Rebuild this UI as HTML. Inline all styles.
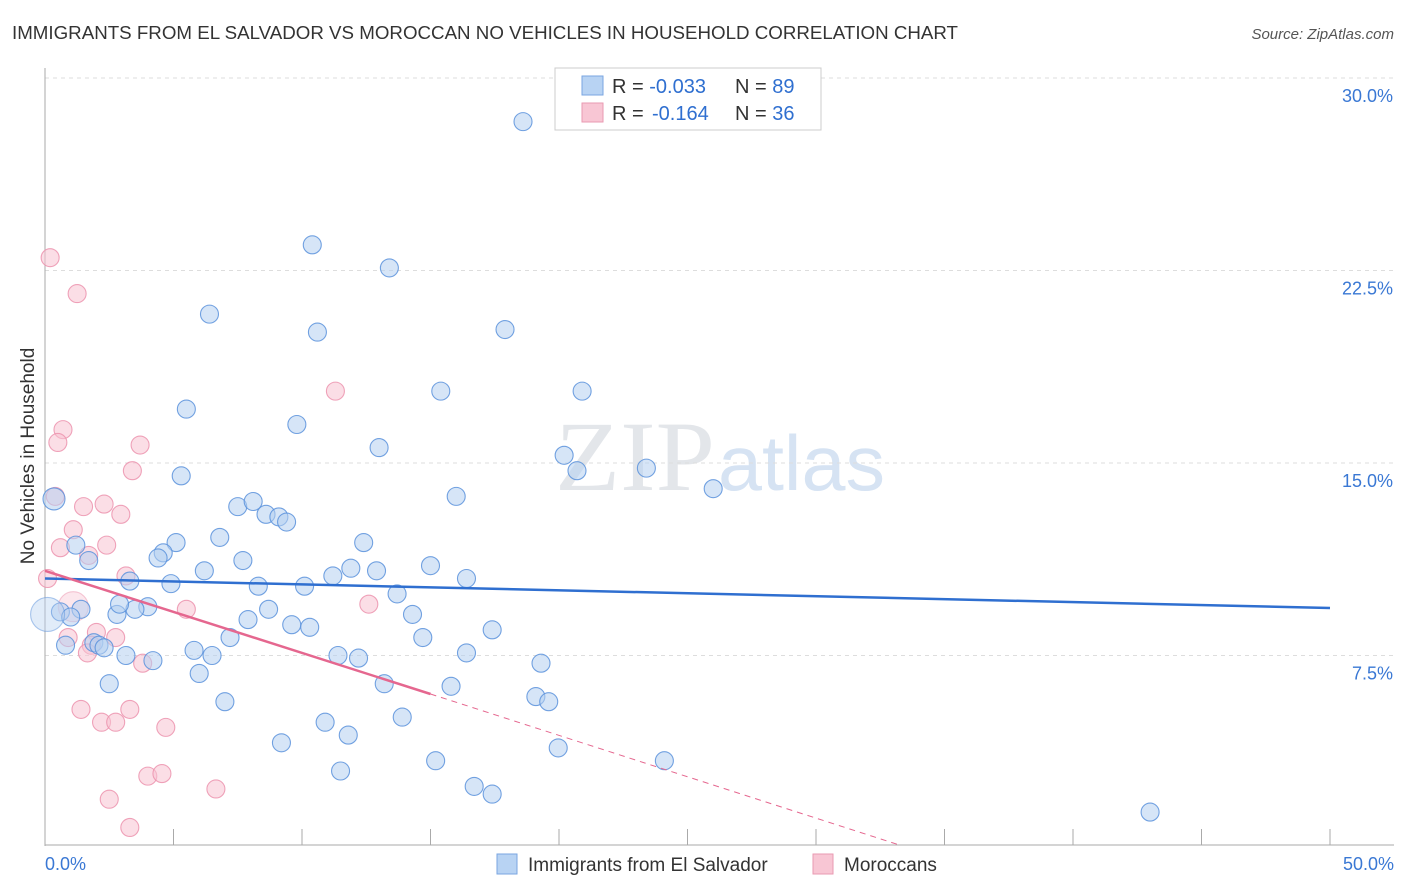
<!DOCTYPE html>
<html><head><meta charset="utf-8"><style>
body{margin:0;background:#fff;font-family:"Liberation Sans",sans-serif;}
svg{display:block}
</style></head><body>
<svg id="chart" width="1406" height="892">
<text x="12" y="39" font-size="18" fill="#333" textLength="946" lengthAdjust="spacingAndGlyphs">IMMIGRANTS FROM EL SALVADOR VS MOROCCAN NO VEHICLES IN HOUSEHOLD CORRELATION CHART</text>
<text x="1394" y="39" font-size="15" fill="#555" font-style="italic" text-anchor="end">Source: ZipAtlas.com</text>
<text x="555" y="490" font-size="100" fill="#e3e6ea" textLength="160" lengthAdjust="spacingAndGlyphs" font-family="Liberation Serif">ZIP</text>
<text x="718" y="490" font-size="78" fill="#d6e3f3" textLength="167" lengthAdjust="spacingAndGlyphs">atlas</text>
<g id="grid"></g>
<g id="axes"></g>
<g id="marks"></g>
<text transform="translate(34,456) rotate(-90)" font-size="19" fill="#333" text-anchor="middle">No Vehicles in Household</text>
<g>
<rect x="555" y="68" width="266" height="62" fill="#fff" stroke="#ccc"/>
<rect x="582" y="76" width="21" height="19" fill="#b8d3f3" stroke="#7aa6e0"/>
<rect x="582" y="103" width="21" height="19" fill="#f8c6d4" stroke="#e99ab2"/>
<text x="612" y="93" font-size="20" fill="#333">R = <tspan fill="#2f6fd0">-0.033</tspan><tspan x="735">N = </tspan><tspan fill="#2f6fd0">89</tspan></text>
<text x="612" y="120" font-size="20" fill="#333">R = <tspan fill="#2f6fd0" x="652">-0.164</tspan><tspan x="735">N = </tspan><tspan fill="#2f6fd0">36</tspan></text>
</g>
<g>
<rect x="497" y="854" width="20" height="20" fill="#b8d3f3" stroke="#7aa6e0"/>
<text x="528" y="871" font-size="19" fill="#333">Immigrants from El Salvador</text>
<rect x="813" y="854" width="20" height="20" fill="#f8c6d4" stroke="#e99ab2"/>
<text x="844" y="871" font-size="19" fill="#333">Moroccans</text>
</g>
</svg>
<script>
const yTicks=[7.5,15,22.5,30];
const yTickLabels=["7.5%","15.0%","22.5%","30.0%"];
const xTicks=[0,5,10,15,20,25,30,35,40,45,50];
const blueX=[18.6,10.4,13.4,6.4,10.6,17.9,15.4,20.9,5.5,9.8,13.0,20.2,20.7,23.4,26.0,5.3,16.0,0.35,7.5,8.1,8.6,9.1,9.4,6.8,5.1,4.6,4.4,1.7,1.2,12.4,7.7,11.9,12.9,15.0,16.4,11.2,6.2,3.3,4.9,8.3,10.1,13.7,14.3,8.7,7.9,4.0,3.5,2.8,2.9,1.4,0.6,1.0,0.1,9.6,10.3,7.2,14.7,17.4,1.9,2.1,0.8,2.3,3.15,4.2,5.8,6.5,11.4,12.2,16.4,19.3,6.0,13.2,2.5,15.8,19.1,19.6,7.0,13.9,10.9,11.8,9.2,19.97,15.2,24.1,11.5,16.7,17.4,43.0];
const blueY=[28.3,23.5,22.6,20.8,20.1,20.2,17.8,17.8,17.1,16.5,15.6,15.3,14.7,14.8,14.0,14.5,13.7,13.6,13.3,13.5,13.0,12.9,12.7,12.1,11.9,11.5,11.3,11.2,11.8,11.9,11.2,10.9,10.8,11.0,10.5,10.6,10.8,10.4,10.3,10.2,10.2,9.9,9.1,9.3,8.9,9.4,9.3,9.1,9.5,9.3,9.2,9.0,9.1,8.7,8.6,8.2,8.2,8.5,8.0,7.9,7.9,7.8,7.5,7.3,7.7,7.5,7.5,7.4,7.6,7.2,6.8,6.4,6.4,6.3,5.9,5.7,5.7,5.1,4.9,4.4,4.1,3.9,3.4,3.4,3.0,2.4,2.1,1.4];
const pinkX=[0.2,1.25,11.3,0.7,0.5,3.7,3.4,0.4,1.5,2.3,2.95,1.1,2.4,0.6,1.7,3.15,0.1,1.1,5.5,12.6,0.9,2.0,2.75,1.8,1.65,3.8,1.4,3.3,2.2,2.75,4.7,4.0,4.55,6.65,2.5,3.3];
const pinkY=[23.0,21.6,17.8,16.3,15.8,15.7,14.7,13.7,13.3,13.4,13.0,12.4,11.8,11.7,11.4,10.6,10.5,9.4,9.3,9.5,8.2,8.4,8.2,7.9,7.6,7.2,5.4,5.4,4.9,4.9,4.7,2.8,2.9,2.3,1.9,0.8];
const X0=45,X1=1330,Y0=848,PXY=192.5/7.5;
const xs=v=>X0+(v/50)*(X1-X0);
const ys=v=>Y0-v*PXY;
const NS="http://www.w3.org/2000/svg";
function mk(tag,attrs,parent){const e=document.createElementNS(NS,tag);for(const k in attrs)e.setAttribute(k,attrs[k]);parent.appendChild(e);return e;}
const grid=document.getElementById('grid'),axes=document.getElementById('axes'),marks=document.getElementById('marks');
yTicks.forEach((t,i)=>{
 const l=mk('line',{x1:45,x2:1394,y1:ys(t),y2:ys(t),stroke:'#ddd','stroke-dasharray':'4,4'},grid);
 
 
 const tx=mk('text',{x:1393,y:ys(t)+24,'font-size':18,fill:'#3a78d4','text-anchor':'end'},axes);
 tx.textContent=yTickLabels[i];
 
 
});
const ya=mk('line',{x1:45,x2:45,y1:68,y2:846,stroke:'#aaa'},axes);


const xa=mk('line',{x1:45,x2:1394,y1:845,y2:845,stroke:'#aaa'},axes);


xTicks.forEach(t=>{
 const l=mk('line',{x1:xs(t),x2:xs(t),y1:829,y2:845,stroke:'#aaa'},axes);
 
 
});
const xl0=mk('text',{x:45,y:870,'font-size':18,fill:'#3a78d4'},axes);xl0.textContent='0.0%';


const xl1=mk('text',{x:1394,y:870,'font-size':18,fill:'#3a78d4','text-anchor':'end'},axes);xl1.textContent='50.0%';


function pts(X,Y,fill,stroke,name,big){
 X.forEach((v,i)=>{
  let r=9; if(big[i])r=big[i];
  const c=mk('circle',{cx:xs(v),cy:ys(Y[i]),r:r,fill:fill,'fill-opacity':big[i]>12?0.4:0.55,stroke:stroke,'stroke-opacity':big[i]>12?0.5:0.85,'stroke-width':1.1},marks);
  
  
 });
}
pts(pinkX,pinkY,'#f8c3d2','#ec93ae','moroccan-point',{17:15});
pts(blueX,blueY,'#b5d0f1','#5b92dc','el-salvador-point',{17:11,52:17});
const bl=mk('line',{x1:xs(0),y1:ys(10.5),x2:xs(50),y2:ys(9.35),stroke:'#2f6fd0','stroke-width':2.5},marks);


const pl=mk('line',{x1:xs(0),y1:ys(10.8),x2:xs(15),y2:ys(6.0),stroke:'#e5678f','stroke-width':2.5},marks);


const pd=mk('line',{x1:xs(15),y1:ys(6.0),x2:xs(33.3),y2:ys(0.1),stroke:'#e5678f','stroke-width':1,'stroke-dasharray':'6,5'},marks);


</script>
</body></html>
